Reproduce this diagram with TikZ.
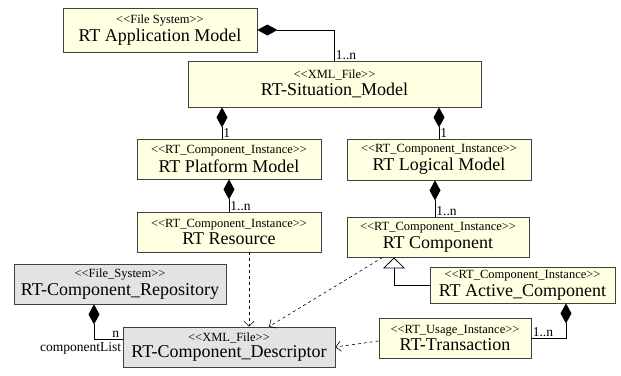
\documentclass[tikz,border=0pt]{standalone}
\usepackage{fontspec}
\setmainfont{Liberation Serif}
\usetikzlibrary{arrows.meta}
\definecolor{clsyellow}{HTML}{FFFFE1}
\definecolor{clsgray}{HTML}{E3E3E3}
\definecolor{clsline}{HTML}{404040}
\newcommand{\stereo}[1]{{\fontsize{12.5}{13}\selectfont<\kern0pt<#1>\kern0pt>}}
\newcommand{\cname}[1]{{\fontsize{18}{19}\selectfont #1}}

\begin{document}
\begin{tikzpicture}[x=1pt, y=-1pt, line width=0.8pt,
    cls/.style={draw=clsline, fill=clsyellow, rectangle, inner sep=0pt, align=center},
    file/.style={cls, fill=clsgray},
    mult/.style={inner sep=1pt, font=\fontsize{13.5}{14}\selectfont},
    compo/.style={{Diamond[length=20pt, width=11pt]}-},
    dep/.style={dashed, -{Straight Barb[length=5pt, width=10pt]}, line width=0.6pt},
    gen/.style={-{Triangle[open, length=11pt, width=22pt, fill=white]}}]
    \useasboundingbox (0,0) rectangle (621,375);

    \node[cls, minimum width=194pt, minimum height=44pt] (app) at (160,30) {\stereo{File System}\\[2pt]\cname{RT Application Model}};
    \node[cls, minimum width=293pt, minimum height=46pt] (sit) at (334.5,84) {\stereo{XML\_File}\\[2pt]\cname{RT-Situation\_Model}};
    \node[cls, minimum width=184pt, minimum height=40pt] (plat) at (229,159) {\stereo{RT\_Component\_Instance}\\[2pt]\cname{RT Platform Model}};
    \node[cls, minimum width=184pt, minimum height=41pt] (logic) at (439,159.5) {\stereo{RT\_Component\_Instance}\\[2pt]\cname{RT Logical Model}};
    \node[cls, minimum width=184pt, minimum height=40pt] (res) at (229,232) {\stereo{RT\_Component\_Instance}\\[2pt]\cname{RT Resource}};
    \node[cls, minimum width=182pt, minimum height=40pt] (comp) at (438,237) {\stereo{RT\_Component\_Instance}\\[2pt]\cname{RT Component}};
    \node[file, minimum width=212pt, minimum height=40pt] (repo) at (120,284) {\stereo{File\_System}\\[2pt]\cname{RT-Component\_Repository}};
    \node[file, minimum width=212pt, minimum height=40pt] (desc) at (229,347) {\stereo{XML\_File}\\[2pt]\cname{RT-Component\_Descriptor}};
    \node[cls, minimum width=185pt, minimum height=36pt] (active) at (522.5,285) {\stereo{RT\_Component\_Instance}\\[2pt]\cname{RT Active\_Component}};
    \node[cls, minimum width=152pt, minimum height=40pt] (trans) at (455,338) {\stereo{RT\_Usage\_Instance}\\[2pt]\cname{RT-Transaction}};

    % compositions
    \draw[compo] (app.east) -| (sit.north) node[mult, anchor=south west] {1..n};
    \draw[compo] ([xshift=-7pt]plat.north |- sit.south) -- ([xshift=-7pt]plat.north) node[mult, anchor=south west] {1};
    \draw[compo] (logic.north |- sit.south) -- (logic.north) node[mult, anchor=south west] {1};
    \draw[compo] (plat.south) -- (res.north) node[mult, anchor=south west] {1..n};
    \draw[compo] ([xshift=-3pt]comp.north |- logic.south) -- ([xshift=-3pt]comp.north) node[mult, anchor=south west] {1..n};
    \draw[compo] ([xshift=43.5pt]active.south) |- (trans.east) node[mult, anchor=south west] {1..n};
    \draw[compo] ([xshift=-26pt]repo.south) |- ([yshift=8pt]desc.west) node[mult, anchor=south east, xshift=-2pt] {n} node[mult, anchor=north east, yshift=-2pt] {componentList};

    % dependencies and generalization
    \draw[dep] ([xshift=20pt]res.south) -- ([xshift=20pt]desc.north);
    \draw[dep] ([xshift=36pt]comp.south west) -- ([xshift=40pt]desc.north);
    \draw[dep] ([yshift=-3pt]trans.west) -- (desc.east);
    \draw[gen] (active.west) -| ([xshift=-44pt]comp.south);
\end{tikzpicture}
\end{document}
